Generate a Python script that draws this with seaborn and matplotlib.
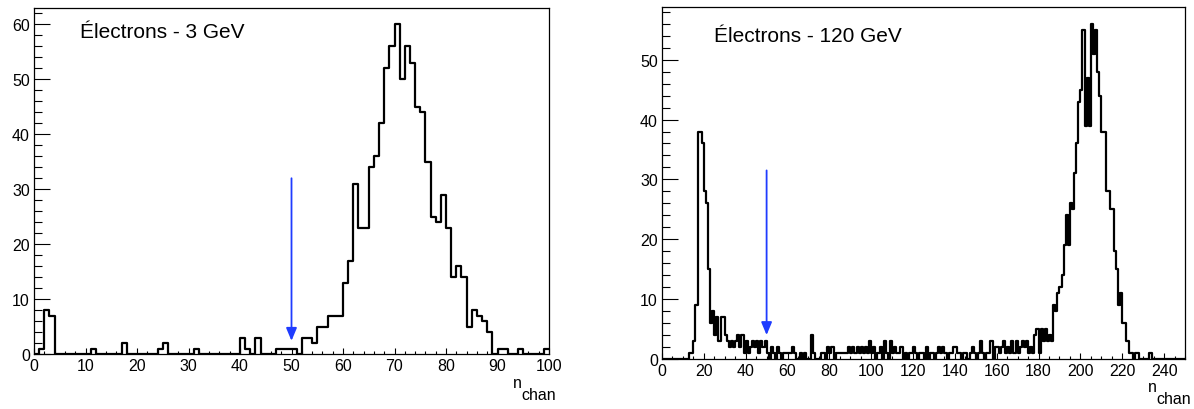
import numpy as np
import pandas as pd
import matplotlib
matplotlib.use("Agg")
import matplotlib.pyplot as plt
from matplotlib.ticker import MultipleLocator
import seaborn as sns

# ---------------- data ----------------
edges_3gev = list(range(0, 101))
counts_3gev = [
    0, 1, 8, 7, 0, 0, 0, 0, 0, 0,
    0, 1, 0, 0, 0, 0, 0, 2, 0, 0,
    0, 0, 0, 0, 1, 2, 0, 0, 0, 0,
    0, 1, 0, 0, 0, 0, 0, 0, 0, 0,
    3, 1, 0, 3, 0, 0, 0, 1, 1, 1,
    1, 0, 3, 3, 2, 5, 5, 7, 7, 7,
    13, 17, 31, 23, 23, 34, 36, 42, 52, 56,
    60, 50, 56, 53, 45, 44, 35, 25, 24, 29,
    23, 14, 16, 14, 5, 8, 7, 6, 4, 0,
    1, 1, 0, 0, 1, 0, 0, 0, 0, 1,
]

edges_120gev = list(range(0, 251))
counts_120gev = [
    0, 0, 0, 0, 0, 0, 0, 0, 0, 0,
    0, 0, 0, 1, 1, 3, 9, 38, 38, 36,
    28, 26, 15, 6, 8, 4, 7, 3, 7, 7,
    4, 3, 2, 3, 2, 3, 4, 2, 4, 1,
    3, 1, 2, 3, 2, 3, 1, 3, 2, 3,
    1, 0, 2, 1, 0, 2, 1, 0, 1, 1,
    1, 1, 2, 1, 0, 0, 1, 0, 1, 0,
    0, 4, 1, 0, 0, 0, 1, 1, 0, 2,
    1, 2, 0, 1, 1, 1, 1, 1, 1, 2,
    1, 2, 1, 2, 1, 2, 1, 2, 1, 3,
    1, 2, 0, 1, 2, 0, 3, 1, 0, 3,
    1, 2, 1, 1, 2, 0, 1, 0, 1, 1,
    2, 1, 0, 1, 1, 0, 2, 0, 1, 1,
    0, 1, 2, 1, 2, 1, 0, 1, 1, 2,
    2, 1, 1, 0, 1, 1, 0, 1, 2, 1,
    0, 1, 3, 1, 0, 1, 1, 3, 0, 2,
    2, 1, 2, 3, 1, 2, 1, 3, 1, 3,
    1, 2, 3, 2, 3, 1, 2, 1, 4, 5,
    1, 5, 3, 5, 3, 4, 3, 9, 8, 11,
    12, 14, 19, 24, 19, 26, 25, 31, 36, 43,
    45, 55, 39, 47, 39, 56, 51, 55, 48, 44,
    38, 38, 28, 28, 25, 25, 18, 15, 9, 11,
    6, 6, 3, 1, 1, 0, 1, 1, 0, 0,
    0, 0, 0, 1, 0, 0, 0, 0, 0, 0,
    0, 0, 0, 0, 0, 0, 0, 0, 0, 0,
]

titles = ["Électrons - 3 GeV", "Électrons - 120 GeV"]
cut_value = 50
arrow_top = [32.0, 31.5]
arrow_tip = [2.4, 4.0]
ymax = [63.0, 58.8]
xmax = [100, 250]

# ---------------- style ----------------
sns.set_style("white")
plt.rcParams["font.family"] = ["Liberation Sans", "DejaVu Sans"]
plt.rcParams["text.color"] = "black"

W, H = 1194, 410
fig = plt.figure(figsize=(W / 100, H / 100), dpi=100)
ax1 = fig.add_axes([34 / W, 1 - 355 / H, (549 - 34) / W, (355 - 9) / H])
ax2 = fig.add_axes([662 / W, 1 - 360 / H, (1185 - 662) / W, (360 - 8) / H])

blue = "#1f3cff"


def draw(ax, edges, counts, k, xmaj, xmin):
    centers = [(a + b) / 2.0 for a, b in zip(edges[:-1], edges[1:])]
    df = pd.DataFrame({"n": centers, "w": counts})
    sns.histplot(data=df, x="n", weights="w", bins=edges, element="step",
                 fill=False, color="black", linewidth=1.6, ax=ax)
    ax.set_xlim(0, xmax[k])
    ax.set_ylim(0, ymax[k])
    ax.set_xlabel("")
    ax.set_ylabel("")
    ax.xaxis.set_major_locator(MultipleLocator(xmaj))
    ax.xaxis.set_minor_locator(MultipleLocator(xmin))
    ax.yaxis.set_major_locator(MultipleLocator(10))
    ax.yaxis.set_minor_locator(MultipleLocator(2))
    ax.tick_params(axis="both", which="both", direction="in", width=0.8,
                   colors="black", labelsize=11.5, bottom=True, left=True,
                   top=False, right=False)
    ax.tick_params(axis="x", which="major", length=4.5, pad=3)
    ax.tick_params(axis="x", which="minor", length=2.2)
    ax.tick_params(axis="y", which="major", length=11.5, pad=3)
    ax.tick_params(axis="y", which="minor", length=5.8)
    for s in ax.spines.values():
        s.set_visible(True)
        s.set_color("black")
        s.set_linewidth(0.9)
    ax.annotate("", xy=(cut_value, arrow_tip[k]), xytext=(cut_value, arrow_top[k]),
                arrowprops=dict(arrowstyle="-|>,head_width=0.23,head_length=0.55",
                                color=blue, lw=1.3, mutation_scale=14,
                                shrinkA=0, shrinkB=0))


draw(ax1, edges_3gev, counts_3gev, 0, 10, 2)
draw(ax2, edges_120gev, counts_120gev, 1, 20, 5)

fig.text(80 / W, 1 - 32 / H, titles[0], fontsize=15, ha="left", va="center", color="black")
fig.text(714 / W, 1 - 37 / H, titles[1], fontsize=15, ha="left", va="center", color="black")

for xn, yn in ((513, 384), (1148, 388)):
    fig.text(xn / W, 1 - yn / H, "n", fontsize=11.5, ha="left", va="center", color="black")
    fig.text((xn + 8) / W, 1 - (yn + 12) / H, "chan", fontsize=11.5, ha="left",
             va="center", color="black")

fig.savefig("out.png", dpi=100)
